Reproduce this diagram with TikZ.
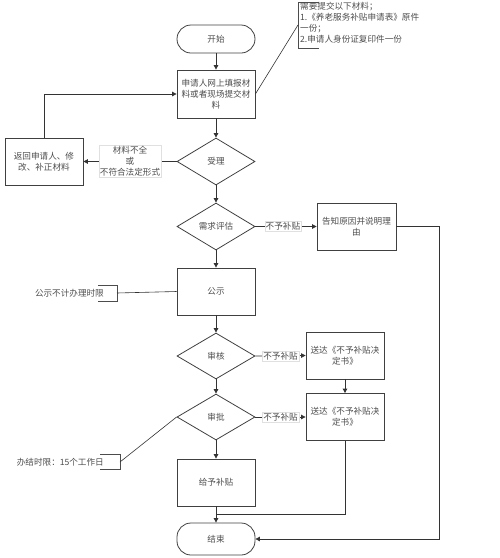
\documentclass[tikz,border=0pt]{standalone}
\usepackage{fontspec}
\setmainfont{Noto Sans CJK SC}
\usetikzlibrary{shapes.geometric,arrows.meta}
\tikzset{
  every node/.style={font=\fontsize{8.6}{11}\selectfont, text=black!70},
  proc/.style={draw=black!75, line width=0.8pt, minimum width=78pt, minimum height=47pt, inner sep=1pt, align=center},
  term/.style={draw=black!75, line width=0.8pt, minimum width=78pt, rounded corners=14pt, align=center},
  dec/.style={diamond, draw=black!75, line width=0.8pt, minimum width=78pt, minimum height=47pt, inner sep=0pt, align=center},
  lab/.style={fill=white, draw=black!12, line width=0.4pt, inner sep=1pt, align=center},
  conn/.style={draw=black!80, line width=0.8pt},
  arr/.style={conn, -{Triangle[length=4.5pt,width=4.5pt]}},
  brk/.style={draw=black!70, line width=0.8pt},
}
\begin{document}
\begin{tikzpicture}[x=1pt,y=-1pt]
\useasboundingbox (0,0) rectangle (500,558);
% main nodes
\node[term, minimum height=28pt] (start) at (216,39) {开始};
\node[proc, minimum height=48pt] (box1) at (216,94) {申请人网上填报材\\料或者现场提交材\\料};
\node[dec] (accept) at (216,161.5) {受理};
\node[proc] (ret) at (44,161.5) {返回申请人、修\\改、补正材料};
\node[dec] (assess) at (216,226.5) {需求评估};
\node[proc, minimum width=79pt] (tell) at (356.5,226.5) {告知原因并说明理\\由};
\node[proc] (public) at (216,291.5) {公示};
\node[dec, minimum height=46pt] (review) at (216,356) {审核};
\node[proc] (send1) at (345,355.5) {送达《不予补贴决\\定书》};
\node[dec, minimum height=46pt] (approve) at (216,417) {审批};
\node[proc] (send2) at (345,417) {送达《不予补贴决\\定书》};
\node[proc] (give) at (216,482.5) {给予补贴};
\node[term, minimum height=32pt] (end) at (216,539) {结束};

% notes
\node[anchor=north west, align=left, inner sep=0pt] (note1) at (300,1.5) {需要提交以下材料；\\1.《养老服务补贴申请表》原件\\一份；\\2.申请人身份证复印件一份};
\coordinate (n1a) at (319,2);
\coordinate (n1b) at (298,2);
\coordinate (n1c) at (298,48);
\coordinate (n1d) at (319,48);
\coordinate (n1m) at (298,25);
\draw[brk] (n1a) -- (n1b) -- (n1c) -- (n1d);
\draw[conn, line width=0.6pt] (box1.east) -- (n1m);

\node[anchor=east, inner sep=0pt] (note2) at (104,293) {公示不计办理时限};
\coordinate (n2a) at (98,285);
\coordinate (n2b) at (117,285);
\coordinate (n2c) at (117,301);
\coordinate (n2d) at (98,301);
\coordinate (n2m) at (117,293);
\draw[brk] (n2a) -- (n2b) -- (n2c) -- (n2d);
\draw[conn, line width=0.6pt] (n2m) -- (public.west);

\node[anchor=east, inner sep=0pt] (note3) at (104,462) {办结时限：15个工作日};
\coordinate (n3a) at (100,454);
\coordinate (n3b) at (120,454);
\coordinate (n3c) at (120,469);
\coordinate (n3d) at (100,469);
\coordinate (n3m) at (120,462);
\draw[brk] (n3a) -- (n3b) -- (n3c) -- (n3d);
\draw[conn, line width=0.6pt] (n3m) -- (approve.west);

% connectors
\draw[arr] (start) -- (box1);
\draw[arr] (box1) -- (accept);
\draw[arr] (accept.west) -- (ret.east) node[lab, midway] (l1) {材料不全\\或\\不符合法定形式};
\draw[arr] (ret.north) |- (box1.west);
\draw[arr] (accept) -- (assess);
\draw[arr] (assess.east) -- (tell.west) node[lab, pos=0.45] (l2) {不予补贴};
\coordinate (rc) at (439,539);
\draw[arr] (tell.east) -| (rc) -- (end.east);
\draw[arr] (assess) -- (public);
\draw[arr] (public) -- (review);
\draw[arr] (review.east) -- (send1.west) node[lab, pos=0.5] (l3) {不予补贴};
\draw[arr] (send1) -- (send2);
\draw[arr] (review) -- (approve);
\draw[arr] (approve.east) -- (send2.west) node[lab, pos=0.5] (l4) {不予补贴};
\draw[arr] (approve) -- (give);
\draw[arr] (give) -- (end);
\coordinate (jn) at (216,514);
\draw[conn] (send2.south) |- (jn);
\end{tikzpicture}
\end{document}
